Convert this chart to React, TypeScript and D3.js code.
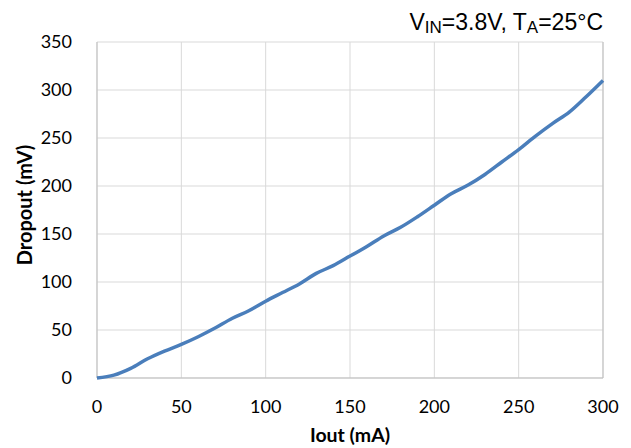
import React from 'react';
import * as d3 from 'd3';

const iout = [0, 10, 20, 30, 40, 50, 60, 70, 80, 90, 100, 110, 120, 130, 140, 150, 160, 170, 180, 190, 200, 210, 220, 230, 240, 250, 260, 270, 280, 290, 300];
const dropout = [0, 3, 10, 20, 28, 35, 43, 52, 62, 70, 80, 89, 98, 109, 117, 127, 137, 148, 157, 168, 180, 192, 201, 212, 225, 238, 252, 265, 277, 293, 310];
const xTicks = [0, 50, 100, 150, 200, 250, 300];
const yTicks = [0, 50, 100, 150, 200, 250, 300, 350];

const width = 631;
const height = 448;
const margin = { left: 97, right: 28, top: 42, bottom: 70 };

const App = () => {
    const xScale = d3.scaleLinear().domain([0, 300]).range([margin.left, width - margin.right]);
    const yScale = d3.scaleLinear().domain([0, 350]).range([height - margin.bottom, margin.top]);

    const line = d3
        .line<number>()
        .x((d, i) => xScale(iout[i]))
        .y((d) => yScale(d))
        .curve(d3.curveCatmullRom);

    const tickFont = 'Lato, "Open Sans", sans-serif';

    return (
        <svg width={width} height={height} style={{ position: 'absolute', left: 0, top: 0 }}>
            <rect x={0} y={0} width={width} height={height} fill='white' />
            {xTicks.map((t) => (
                <line key={'gx' + t} x1={xScale(t)} x2={xScale(t)} y1={yScale(0)} y2={yScale(350)} stroke='#d9d9d9' strokeWidth={1} />
            ))}
            {yTicks.map((t) => (
                <line key={'gy' + t} x1={xScale(0)} x2={xScale(300)} y1={yScale(t)} y2={yScale(t)} stroke='#d9d9d9' strokeWidth={1} />
            ))}
            <line x1={xScale(0)} x2={xScale(0)} y1={yScale(0)} y2={yScale(350)} stroke='#bfbfbf' />
            <line x1={xScale(0)} x2={xScale(300)} y1={yScale(0)} y2={yScale(0)} stroke='#bfbfbf' />
            <line x1={xScale(300)} x2={xScale(300)} y1={yScale(0)} y2={yScale(350)} stroke='#bfbfbf' />

            <path d={line(dropout) || ''} fill='none' stroke='#4a7ebb' strokeWidth={3.5} strokeLinejoin='round' />

            {yTicks.map((t) => (
                <text key={'ty' + t} x={72} y={yScale(t) + 6} textAnchor='end' fontFamily={tickFont} fontSize={18} fill='#000'>
                    {t}
                </text>
            ))}
            {xTicks.map((t) => (
                <text key={'tx' + t} x={xScale(t)} y={413} textAnchor='middle' fontFamily={tickFont} fontSize={18} fill='#000'>
                    {t}
                </text>
            ))}
            <text x={350} y={442} textAnchor='middle' fontFamily={tickFont} fontSize={19.5} fontWeight='bold'>
                Iout (mA)
            </text>
            <text
                transform={`translate(32, 205) rotate(-90)`}
                textAnchor='middle'
                fontFamily={tickFont}
                fontSize={20}
                fontWeight='bold'
            >
                Dropout (mV)
            </text>
            <text x={603} y={30} textAnchor='end' fontFamily='"Liberation Sans", Arial, sans-serif' fontSize={23}>
                V<tspan fontSize={17} dy={3}>IN</tspan>
                <tspan dy={-3}>=3.8V, T</tspan>
                <tspan fontSize={17} dy={3}>A</tspan>
                <tspan dy={-3}>=25°C</tspan>
            </text>
        </svg>
    );
};

export default App;
